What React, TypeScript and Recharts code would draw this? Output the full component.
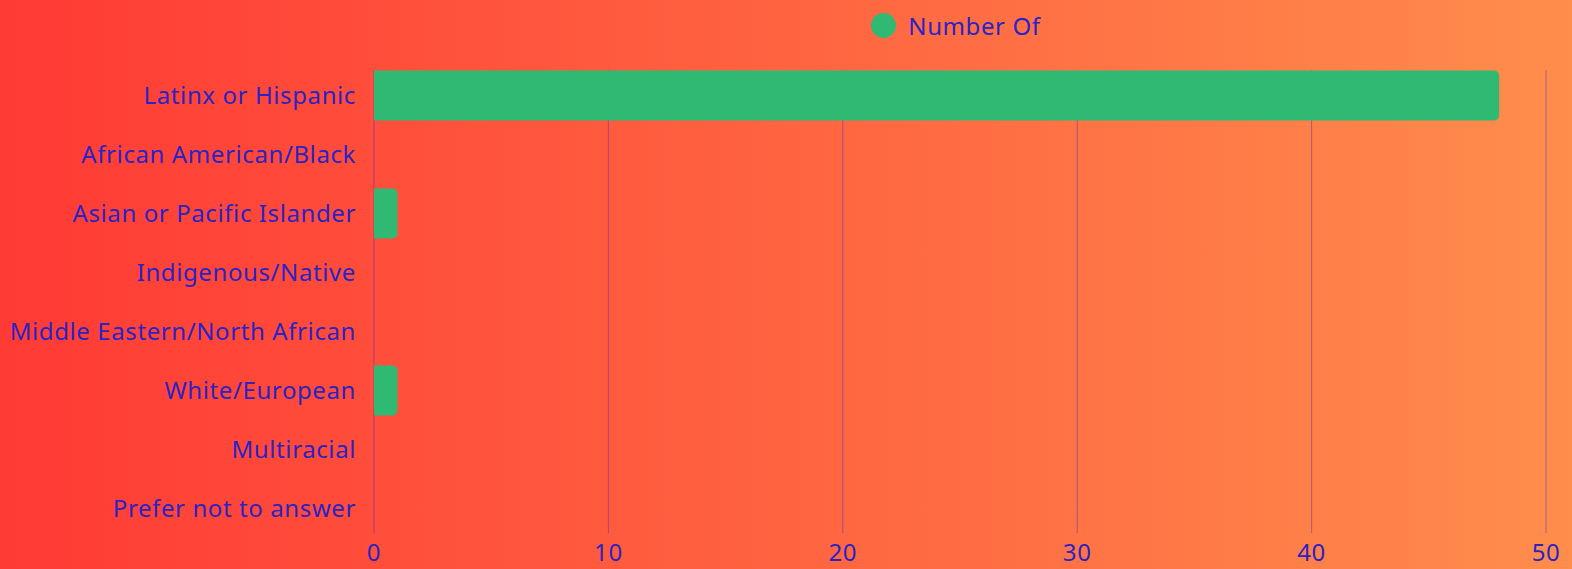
import React from "react";
import {
  BarChart, Bar, XAxis, YAxis, CartesianGrid, Legend,
} from "recharts";

const CATEGORIES = [
  "Latinx or Hispanic",
  "African American/Black",
  "Asian or Pacific Islander",
  "Indigenous/Native",
  "Middle Eastern/North African",
  "White/European",
  "Multiracial",
  "Prefer not to answer",
];
const COUNTS = [48, 0, 1, 0, 0, 1, 0, 0];
const X_TICKS = [0, 10, 20, 30, 40, 50];
const SERIES_NAME = "Number Of";

const TEXT = "#2b23c4";
const GREEN = "#30b973";
const FONT = "'Noto Sans', Lato, sans-serif";
const FS = 24;
const LS = 0.6;

const data = CATEGORIES.map((name, i) => ({ name, value: COUNTS[i] }));

function LegendBox() {
  return (
    <div
      style={{
        display: "flex", justifyContent: "center", alignItems: "center",
        height: 50, fontFamily: FONT, fontSize: FS, letterSpacing: LS, color: TEXT,
      }}
    >
      <span
        style={{
          width: 25, height: 25, borderRadius: "50%", background: GREEN,
          display: "inline-block", marginRight: 12,
        }}
      />
      <span>{SERIES_NAME}</span>
    </div>
  );
}

// grid lines stop a few px short of the plot edges, like the original
const GridLine = (p: any) => (
  <line
    x1={p.x1} x2={p.x2} y1={p.y1 + 4.5} y2={p.y2 - 4.5}
    stroke="#3c2dc8" strokeOpacity={0.45} strokeWidth={1}
  />
);

const tickStyle = { fontSize: FS, fill: TEXT, fontFamily: FONT, letterSpacing: LS };

export default function App() {
  return (
    <div
      style={{
        position: "absolute", left: 0, top: 0, width: 1572, height: 569,
        background: "linear-gradient(to right, #ff3a35, #ff8d4c)",
      }}
    >
      <BarChart
        width={1572}
        height={569}
        data={data}
        layout="vertical"
        margin={{ top: 15.5, right: 26, bottom: 1.5, left: 0 }}
      >
        <CartesianGrid horizontal={false} vertical={GridLine} />
        <XAxis
          type="number"
          domain={[0, 50]}
          ticks={X_TICKS}
          axisLine={false}
          tickLine={false}
          height={30}
          tickMargin={0}
          tick={tickStyle}
        />
        <YAxis
          type="category"
          dataKey="name"
          width={374}
          axisLine={false}
          tickLine={false}
          tickMargin={12}
          interval={0}
          tick={tickStyle}
        />
        <Legend
          verticalAlign="top"
          content={() => <LegendBox />}
          wrapperStyle={{ top: 0, left: 380, width: 1152, height: 50 }}
        />
        <Bar
          dataKey="value"
          name={SERIES_NAME}
          fill={GREEN}
          barSize={50}
          radius={[0, 5, 5, 0]}
          isAnimationActive={false}
        />
      </BarChart>
    </div>
  );
}
